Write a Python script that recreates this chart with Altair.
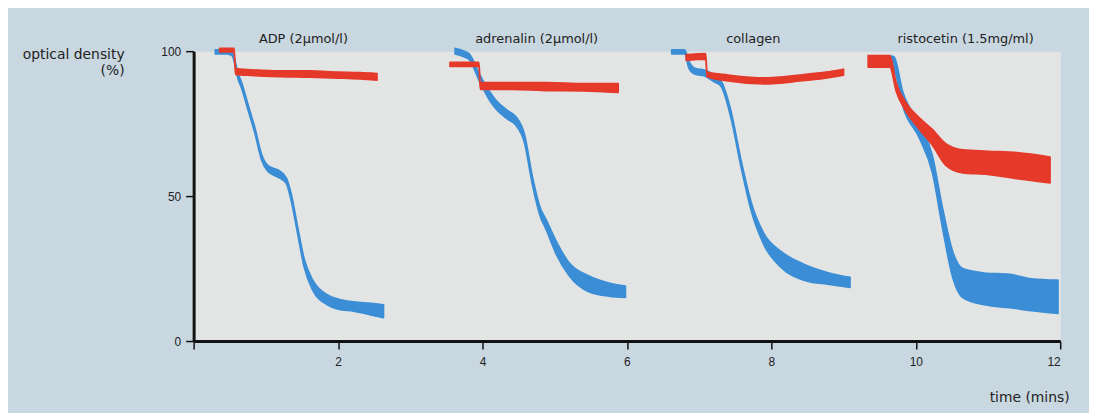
import altair as alt
import pandas as pd

# ---- panel labels ----
panels = ["ADP (2μmol/l)", "adrenalin (2μmol/l)", "collagen", "ristocetin (1.5mg/ml)"]
panel_centers = [1.52, 4.75, 7.75, 10.69]

# ---- ADP ----
adp_blue_t = [0.30, 0.45, 0.53, 0.62, 0.66, 0.755, 0.85, 0.94, 1.03, 1.17, 1.28, 1.35, 1.44, 1.53, 1.65, 1.85, 2.00, 2.22, 2.45, 2.63]
adp_blue_hi = [100.5, 100.5, 100.0, 92.0, 89.5, 81.5, 73.5, 64.5, 60.5, 59.0, 56.5, 51.0, 39.5, 28.5, 21.0, 16.0, 14.5, 13.5, 13.0, 12.5]
adp_blue_lo = [99.0, 99.0, 98.5, 90.0, 87.5, 79.5, 71.5, 62.5, 58.5, 56.5, 54.5, 48.5, 37.0, 25.5, 17.5, 12.5, 11.0, 10.3, 9.0, 8.0]
adp_red_t = [0.36, 0.56, 0.58, 0.80, 1.20, 1.60, 2.00, 2.30, 2.54]
adp_red_hi = [101.0, 101.0, 94.0, 93.6, 93.2, 93.2, 92.8, 92.6, 92.3]
adp_red_lo = [99.7, 99.7, 92.0, 91.6, 91.2, 91.0, 90.7, 90.4, 90.0]

# ---- adrenalin ----
adr_blue_t = [3.62, 3.75, 3.82, 3.96, 4.10, 4.19, 4.35, 4.46, 4.58, 4.69, 4.80, 4.88, 5.01, 5.20, 5.47, 5.75, 5.98]
adr_blue_hi = [101.0, 100.0, 99.0, 92.0, 86.0, 83.0, 79.5, 77.5, 71.5, 57.0, 46.0, 42.0, 35.0, 27.0, 22.5, 20.0, 19.0]
adr_blue_lo = [99.0, 98.0, 97.0, 89.5, 83.0, 80.0, 76.5, 74.5, 68.5, 54.0, 43.0, 38.5, 30.5, 22.5, 17.0, 15.5, 15.0]
adr_red_t = [3.55, 3.95, 3.97, 4.40, 4.90, 5.40, 5.88]
adr_red_hi = [96.2, 96.2, 89.2, 89.2, 89.2, 88.8, 88.8]
adr_red_lo = [94.7, 94.7, 86.8, 86.8, 86.4, 86.3, 85.8]

# ---- collagen ----
col_blue_t = [6.62, 6.80, 6.86, 6.95, 7.07, 7.20, 7.30, 7.44, 7.58, 7.72, 7.90, 8.13, 8.45, 8.80, 9.09]
col_blue_hi = [100.5, 100.5, 96.5, 94.0, 93.5, 92.0, 90.0, 79.5, 62.5, 48.0, 37.0, 31.0, 26.5, 23.5, 22.0]
col_blue_lo = [99.0, 99.0, 94.0, 92.0, 91.5, 89.5, 88.0, 77.0, 60.0, 45.0, 33.0, 25.5, 21.0, 19.5, 18.5]
col_red_t = [6.82, 7.09, 7.11, 7.40, 7.90, 8.40, 8.75, 9.00]
col_red_hi = [98.8, 99.2, 92.8, 91.8, 90.8, 91.8, 92.8, 93.8]
col_red_lo = [96.8, 97.2, 91.2, 89.7, 88.7, 89.7, 90.7, 91.7]

# ---- ristocetin ----
ris_blue_t = [9.64, 9.70, 9.82, 10.05, 10.23, 10.37, 10.51, 10.65, 10.95, 11.30, 11.60, 11.97]
ris_blue_hi = [98.5, 98.0, 86.0, 75.0, 64.0, 46.0, 31.0, 25.0, 23.5, 23.0, 21.5, 21.0]
ris_blue_lo = [95.5, 94.0, 81.0, 70.0, 58.0, 39.0, 22.0, 15.0, 12.5, 11.5, 10.5, 9.5]
ris_red_t = [9.34, 9.64, 9.73, 9.87, 10.05, 10.23, 10.42, 10.65, 11.00, 11.40, 11.86]
ris_red_hi = [98.5, 98.5, 89.0, 82.0, 77.0, 73.0, 68.0, 66.0, 65.5, 65.0, 63.5]
ris_red_lo = [94.5, 94.5, 86.0, 79.0, 73.0, 67.5, 60.5, 58.0, 57.5, 56.0, 54.5]

series_names = ["platelet-rich plasma", "control"]
series_colors = ["#3b8ed6", "#e5392a"]


def rows(panel, series, ts, his, los):
    return [{"panel": panel, "series": series, "t": t, "hi": h, "lo": l}
            for t, h, l in zip(ts, his, los)]


blue_rows = (rows(panels[0], series_names[0], adp_blue_t, adp_blue_hi, adp_blue_lo)
             + rows(panels[1], series_names[0], adr_blue_t, adr_blue_hi, adr_blue_lo)
             + rows(panels[2], series_names[0], col_blue_t, col_blue_hi, col_blue_lo)
             + rows(panels[3], series_names[0], ris_blue_t, ris_blue_hi, ris_blue_lo))
red_rows = (rows(panels[0], series_names[1], adp_red_t, adp_red_hi, adp_red_lo)
            + rows(panels[1], series_names[1], adr_red_t, adr_red_hi, adr_red_lo)
            + rows(panels[2], series_names[1], col_red_t, col_red_hi, col_red_lo)
            + rows(panels[3], series_names[1], ris_red_t, ris_red_hi, ris_red_lo))

blue_df = pd.DataFrame(blue_rows)
red_df = pd.DataFrame(red_rows)
title_df = pd.DataFrame({"name": panels, "t": panel_centers})

xscale = alt.Scale(domain=[0, 12], nice=False)
yscale = alt.Scale(domain=[0, 100], nice=False)

x_axis = alt.Axis(values=[0, 2, 4, 6, 8, 10, 12], format="d",
                  labelExpr="datum.value == 0 ? '' : datum.label",
                  title="time (mins)", titleX=882, titleY=61, titleAlign="right",
                  titleBaseline="alphabetic", titleFontSize=14, titleFontWeight="normal",
                  titleFont="DejaVu Sans", titleColor="#222222",
                  grid=False, domainColor="#111111", domainWidth=3, tickColor="#111111",
                  tickWidth=1.5, tickSize=8, labelPadding=8, labelFontSize=12,
                  labelFont="Liberation Sans", labelColor="#222222")
y_axis = alt.Axis(values=[0, 50, 100], title=["optical density", "(%)"],
                  titleAngle=0, titleX=-70, titleY=7, titleAlign="right",
                  titleBaseline="alphabetic", titleFontSize=14, titleFontWeight="normal",
                  titleFont="DejaVu Sans", titleColor="#222222", titleLineHeight=17,
                  grid=False, domainColor="#111111", domainWidth=3, tickColor="#111111",
                  tickWidth=1.5, tickSize=8, labelPadding=5, labelFontSize=12,
                  labelFont="Liberation Sans", labelColor="#222222")


def band(df, color):
    return alt.Chart(df).mark_area(color=color, stroke=color, strokeWidth=1.6,
                                   strokeJoin="round", opacity=1,
                                   interpolate="monotone").encode(
        x=alt.X("t:Q", scale=xscale, axis=x_axis),
        y=alt.Y("hi:Q", scale=yscale, axis=y_axis),
        y2="lo:Q",
        detail="panel:N",
    )


blue_layer = band(blue_df, series_colors[0])
red_layer = band(red_df, series_colors[1])

titles = alt.Chart(title_df).mark_text(font="DejaVu Sans", fontSize=13, color="#222222",
                                       align="center", baseline="alphabetic").encode(
    x=alt.X("t:Q", scale=xscale),
    y=alt.value(-8),
    text="name:N",
)

chart = alt.layer(blue_layer, red_layer, titles).properties(
    width=873, height=292,
    padding={"left": 187, "top": 42, "right": 29, "bottom": 71},
    autosize=alt.AutoSizeParams(type="none"),
    background="#c8d7e0",
).configure_view(fill="#e3e5e4", stroke="transparent")

chart.save("out.html", embed_options={"renderer": "svg", "actions": False})
